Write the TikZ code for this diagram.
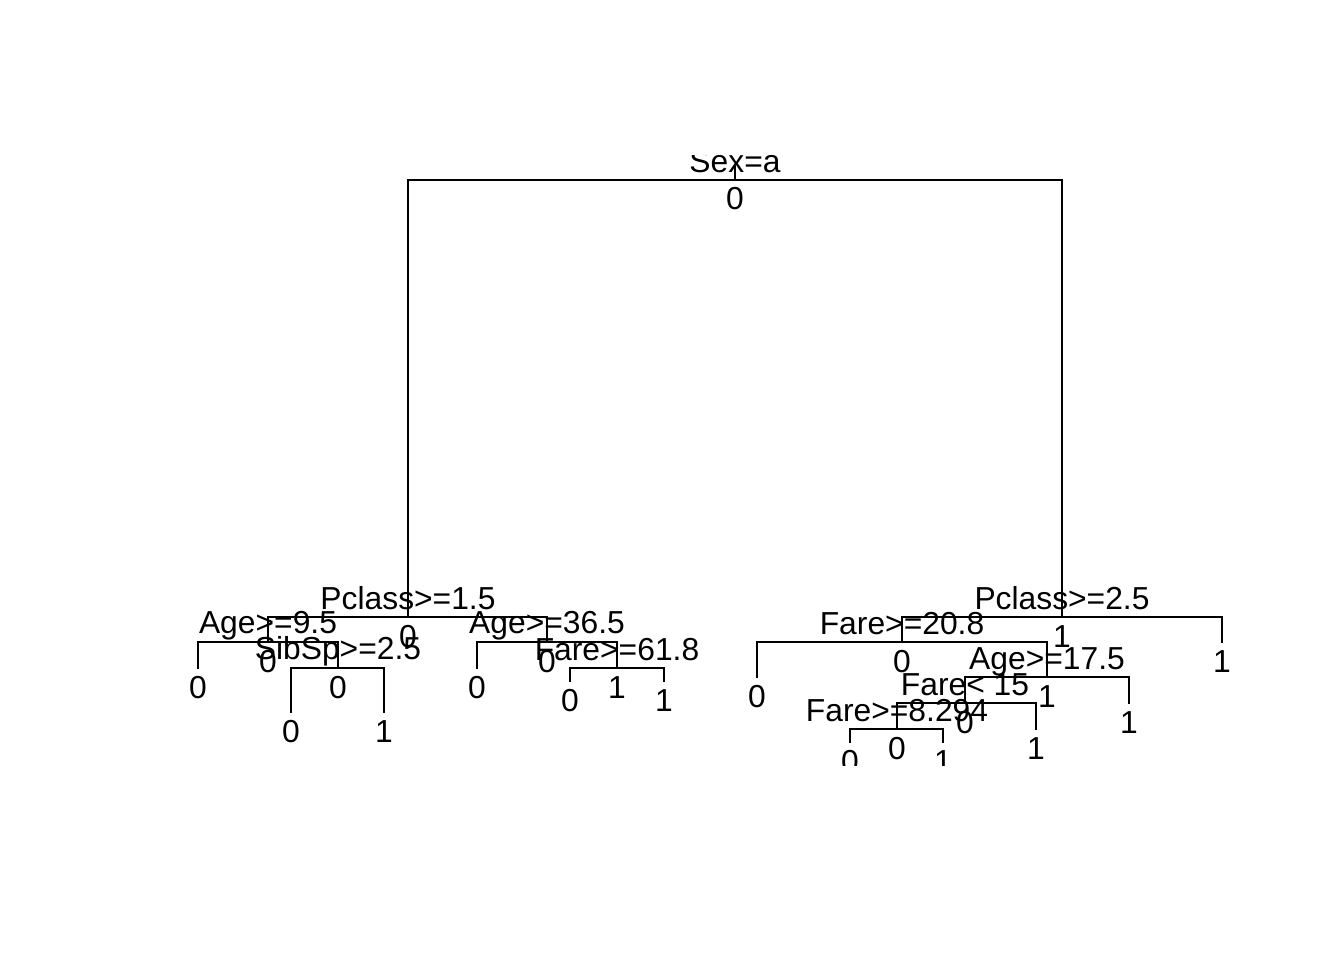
\documentclass[tikz,border=0pt]{standalone}
\usepackage{fontspec}
\setmainfont{Liberation Sans}
\begin{document}
\begin{tikzpicture}[x=1pt,y=-1pt,
  edge/.style={line width=1.9pt,line cap=rect},
  lab/.style={inner sep=0pt,anchor=base,font=\fontsize{31.8}{36}\selectfont}]
\useasboundingbox[fill=white] (0,0) rectangle (1344,960);
\begin{scope}
\clip (0,156) rectangle (1344,765);
% node positions
\coordinate (rtop) at (735,167);
\coordinate (root) at (735,180);
\coordinate (n2) at (408,617);
\coordinate (n4) at (268,642);
\coordinate (n8) at (198,668);
\coordinate (n9) at (338,668);
\coordinate (n18) at (291,712);
\coordinate (n19) at (384,712);
\coordinate (n5) at (547,642);
\coordinate (n10) at (477,668);
\coordinate (n11) at (617,668);
\coordinate (n22) at (570,681);
\coordinate (n23) at (664,681);
\coordinate (n3) at (1062,617);
\coordinate (n6) at (902,642);
\coordinate (n12) at (757,677);
\coordinate (n13) at (1047,677);
\coordinate (n26) at (965,703);
\coordinate (n52) at (897,729);
\coordinate (n104) at (850,742);
\coordinate (n105) at (943,742);
\coordinate (n53) at (1036,729);
\coordinate (n27) at (1129,703);
\coordinate (n7) at (1222,642);
% connectors
\draw[edge] (rtop) -- (root);
\foreach \p/\c in {root/n2,root/n3,n2/n4,n2/n5,n4/n8,n4/n9,n9/n18,n9/n19,
  n5/n10,n5/n11,n11/n22,n11/n23,n3/n6,n3/n7,n6/n12,n6/n13,n13/n26,n13/n27,
  n26/n52,n26/n53,n52/n104,n52/n105}
  \draw[edge] (\p) -| (\c);
% split labels
\node[lab] (s1) at ([yshift=7]root) {Sex=a};
\node[lab] (s2) at ([yshift=8]n2) {Pclass>=1.5};
\node[lab] (s4) at ([yshift=9]n4) {Age>=9.5};
\node[lab] (s9) at ([yshift=9]n9) {SibSp>=2.5};
\node[lab] (s5) at ([yshift=9]n5) {Age>=36.5};
\node[lab] (s11) at ([yshift=8]n11) {Fare>=61.8};
\node[lab] (s3) at ([yshift=8]n3) {Pclass>=2.5};
\node[lab] (s6) at ([yshift=8]n6) {Fare>=20.8};
\node[lab] (s13) at ([yshift=8]n13) {Age>=17.5};
\node[lab] (s26) at ([yshift=8]n26) {Fare< 15};
\node[lab] (s52) at ([yshift=8]n52) {Fare>=8.294};
% fitted values
\foreach \n/\v in {root/0,n2/0,n4/0,n8/0,n9/0,n18/0,n19/1,n5/0,n10/0,n11/1,
  n22/0,n23/1,n3/1,n6/0,n12/0,n13/1,n26/0,n52/0,n104/0,n105/1,n53/1,n27/1,n7/1}
  \node[lab] (v\n) at ([yshift=-30]\n) {\v};
\end{scope}
\end{tikzpicture}
\end{document}
